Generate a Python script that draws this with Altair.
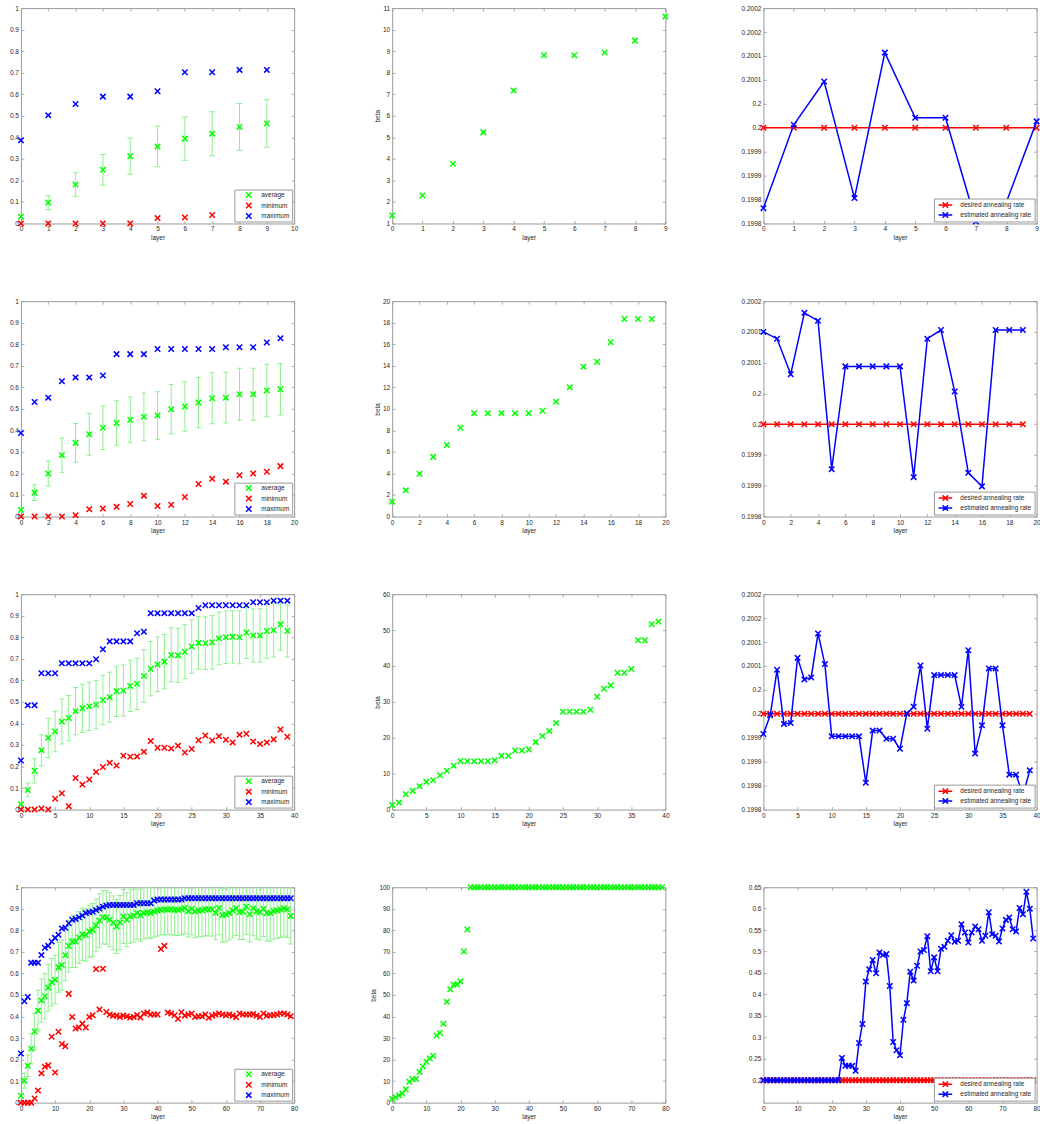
import altair as alt
import pandas as pd

# ---------------------------------------------------------------- styling
FONT = "Liberation Sans"
FS = 6.5
TEXT = "#262626"
FRAME = "#9a9a9a"
GREEN, RED, BLUE = "#00ff00", "#ff0000", "#0000ff"
BAR = "#8ff08f"
XMARK = "M-1,-1L1,1M-1,1L1,-1"
LINEMARK = "M-2.5,0L2.5,0M-1,-1L1,1M-1,1L1,-1"
W, H = 274, 216

STAT_NAMES = ["average", "minimum", "maximum"]
RATE_NAMES = ["desired annealing rate", "estimated annealing rate"]
DESIRED_RATE = 0.2

# ---------------------------------------------------------------- 10 layers
avg_10 = [0.031, 0.097, 0.181, 0.249, 0.312, 0.357, 0.394, 0.417, 0.448, 0.464]
std_10 = [0.008, 0.032, 0.055, 0.071, 0.084, 0.094, 0.100, 0.102, 0.109, 0.110]
min_10 = [0, 0, 0, 0, 0, 0.025, 0.028, 0.039, 0.08, 0.10]
max_10 = [0.386, 0.502, 0.555, 0.589, 0.589, 0.614, 0.702, 0.702, 0.713, 0.713]
beta_10 = [1.37, 2.30, 3.77, 5.23, 7.17, 8.81, 8.81, 8.94, 9.49, 10.61]
est_10 = [0.199832, 0.2000063, 0.2000965, 0.199853, 0.200157,
          0.200021, 0.200021, 0.199804, 0.199844, 0.2000133]

# ---------------------------------------------------------------- 20 layers
avg_20 = [0.031, 0.111, 0.200, 0.285, 0.342, 0.382, 0.412, 0.434, 0.449, 0.463,
          0.469, 0.498, 0.511, 0.529, 0.549, 0.552, 0.568, 0.568, 0.585, 0.591]
std_20 = [0.008, 0.037, 0.058, 0.080, 0.090, 0.098, 0.101, 0.103, 0.106, 0.111,
          0.110, 0.115, 0.115, 0.117, 0.118, 0.118, 0.121, 0.121, 0.122, 0.120]
min_20 = [0, 0, 0, 0, 0.006, 0.034, 0.037, 0.045, 0.058, 0.097,
          0.049, 0.055, 0.091, 0.151, 0.175, 0.162, 0.192, 0.200, 0.208, 0.234]
max_20 = [0.388, 0.532, 0.552, 0.628, 0.646, 0.646, 0.655, 0.754, 0.754, 0.754,
          0.778, 0.778, 0.778, 0.778, 0.778, 0.786, 0.786, 0.786, 0.808, 0.828]
beta_20 = [1.38, 2.43, 3.97, 5.54, 6.65, 8.25, 9.60, 9.60, 9.60, 9.60,
           9.60, 9.82, 10.65, 12.00, 13.91, 14.37, 16.18, 18.34, 18.34, 18.34]
est_20 = [0.200150, 0.200139, 0.2000813, 0.200181, 0.200168,
          0.199927, 0.200094, 0.200094, 0.200094, 0.200094,
          0.200094, 0.199914, 0.200139, 0.200153, 0.2000533,
          0.199921, 0.199899, 0.200153, 0.200153, 0.200153]

# ---------------------------------------------------------------- 40 layers
avg_40 = [0.025, 0.091, 0.180, 0.276, 0.333, 0.363, 0.409, 0.425, 0.457, 0.470,
          0.479, 0.487, 0.509, 0.522, 0.549, 0.553, 0.574, 0.584, 0.620, 0.654,
          0.674, 0.687, 0.718, 0.716, 0.733, 0.757, 0.774, 0.772, 0.777, 0.795,
          0.800, 0.802, 0.800, 0.822, 0.808, 0.808, 0.829, 0.833, 0.860, 0.829]
std_40 = [0.008, 0.032, 0.056, 0.072, 0.091, 0.094, 0.104, 0.105, 0.110, 0.112,
          0.112, 0.112, 0.115, 0.116, 0.117, 0.118, 0.119, 0.119, 0.122, 0.126,
          0.127, 0.126, 0.126, 0.126, 0.125, 0.124, 0.122, 0.122, 0.124, 0.122,
          0.122, 0.122, 0.123, 0.121, 0.123, 0.124, 0.126, 0.124, 0.120, 0.121]
min_40 = [0, 0, 0, 0.005, 0, 0.050, 0.076, 0.016, 0.147, 0.116,
          0.140, 0.175, 0.198, 0.217, 0.205, 0.250, 0.245, 0.247, 0.268, 0.318,
          0.287, 0.287, 0.284, 0.296, 0.265, 0.281, 0.322, 0.344, 0.321, 0.341,
          0.324, 0.312, 0.347, 0.352, 0.316, 0.304, 0.312, 0.326, 0.372, 0.338]
max_40 = [0.228, 0.484, 0.484, 0.633, 0.633, 0.633, 0.679, 0.679, 0.679, 0.679,
          0.679, 0.698, 0.744, 0.781, 0.781, 0.781, 0.781, 0.819, 0.826, 0.912,
          0.912, 0.912, 0.912, 0.912, 0.912, 0.912, 0.936, 0.949, 0.949, 0.949,
          0.949, 0.949, 0.949, 0.949, 0.963, 0.963, 0.963, 0.970, 0.970, 0.970]
beta_40 = [1.30, 1.95, 4.28, 5.21, 6.51, 7.72, 8.19, 9.58, 10.79, 12.19,
           13.49, 13.49, 13.49, 13.49, 13.49, 13.77, 14.98, 14.98, 16.47, 16.47,
           16.74, 18.79, 20.47, 21.86, 24.09, 27.26, 27.26, 27.26, 27.26, 27.81,
           31.44, 33.67, 34.60, 38.14, 38.14, 39.16, 47.16, 47.16, 51.63, 52.37]
est_40 = [0.199958, 0.199997, 0.200092, 0.199979, 0.199981,
          0.200117, 0.200072, 0.200076, 0.200168, 0.200104,
          0.199953, 0.199953, 0.199953, 0.199953, 0.199953,
          0.199856, 0.199965, 0.199965, 0.199948, 0.199948,
          0.199927, 0.200001, 0.200015, 0.200101, 0.199969,
          0.200081, 0.200081, 0.200081, 0.200081, 0.200015,
          0.200133, 0.199917, 0.199976, 0.200095, 0.200095,
          0.199976, 0.199873, 0.199873, 0.199830, 0.199882]

# ---------------------------------------------------------------- 80 layers
avg_80 = [0.032, 0.102, 0.171, 0.250, 0.330, 0.427, 0.474, 0.494, 0.534, 0.559,
          0.571, 0.628, 0.639, 0.684, 0.727, 0.748, 0.748, 0.767, 0.781, 0.778,
          0.795, 0.802, 0.823, 0.846, 0.861, 0.860, 0.849, 0.835, 0.818, 0.836,
          0.864, 0.849, 0.864, 0.869, 0.881, 0.870, 0.880, 0.884, 0.881, 0.887,
          0.892, 0.895, 0.897, 0.897, 0.898, 0.895, 0.895, 0.898, 0.904, 0.889,
          0.900, 0.887, 0.892, 0.893, 0.898, 0.897, 0.898, 0.880, 0.904, 0.870,
          0.873, 0.881, 0.892, 0.903, 0.884, 0.886, 0.910, 0.875, 0.903, 0.889,
          0.884, 0.900, 0.880, 0.880, 0.890, 0.892, 0.897, 0.903, 0.897, 0.867]
std_80 = [0.008, 0.035, 0.050, 0.070, 0.085, 0.095, 0.100, 0.105, 0.108, 0.110,
          0.113, 0.115, 0.117, 0.118, 0.120, 0.120, 0.121, 0.121, 0.122, 0.122,
          0.122, 0.123, 0.123, 0.124, 0.124, 0.125, 0.125, 0.125, 0.126, 0.126,
          0.125, 0.125, 0.124, 0.123, 0.122, 0.121, 0.120, 0.120, 0.119, 0.118,
          0.118, 0.117, 0.117, 0.117, 0.118, 0.118, 0.119, 0.119, 0.120, 0.120,
          0.121, 0.121, 0.122, 0.122, 0.123, 0.123, 0.124, 0.124, 0.125, 0.125,
          0.126, 0.126, 0.127, 0.127, 0.127, 0.128, 0.128, 0.128, 0.128, 0.129,
          0.129, 0.129, 0.129, 0.130, 0.130, 0.130, 0.130, 0.130, 0.130, 0.130]
min_80 = [0, 0, 0, 0, 0.019, 0.056, 0.136, 0.167, 0.173, 0.306,
          0.140, 0.329, 0.272, 0.262, 0.505, 0.398, 0.344, 0.349, 0.367, 0.349,
          0.398, 0.406, 0.620, 0.432, 0.622, 0.421, 0.409, 0.404, 0.404, 0.398,
          0.404, 0.401, 0.395, 0.398, 0.407, 0.395, 0.414, 0.418, 0.409, 0.409,
          0.409, 0.713, 0.728, 0.418, 0.414, 0.406, 0.389, 0.420, 0.404, 0.409,
          0.414, 0.398, 0.401, 0.401, 0.409, 0.394, 0.404, 0.409, 0.414, 0.409,
          0.406, 0.409, 0.404, 0.397, 0.414, 0.409, 0.409, 0.409, 0.411, 0.404,
          0.398, 0.414, 0.404, 0.406, 0.407, 0.409, 0.414, 0.414, 0.409, 0.401]
max_80 = [0.228, 0.471, 0.491, 0.650, 0.650, 0.650, 0.685, 0.719, 0.728, 0.748,
          0.765, 0.779, 0.809, 0.812, 0.833, 0.849, 0.853, 0.861, 0.869, 0.880,
          0.884, 0.886, 0.894, 0.901, 0.910, 0.915, 0.918, 0.918, 0.918, 0.918,
          0.918, 0.918, 0.918, 0.918, 0.926, 0.926, 0.926, 0.926, 0.926, 0.938,
          0.943, 0.943, 0.943, 0.943, 0.943, 0.943, 0.943, 0.943, 0.949, 0.949,
          0.949, 0.949, 0.949, 0.949, 0.949, 0.949, 0.949, 0.949, 0.949, 0.949,
          0.949, 0.949, 0.949, 0.949, 0.949, 0.949, 0.949, 0.949, 0.949, 0.949,
          0.949, 0.949, 0.949, 0.949, 0.949, 0.949, 0.949, 0.949, 0.949, 0.949]
beta_80 = [1.7, 2.5, 3.4, 4.2, 6.2, 9.7, 11.0, 11.0, 14.2, 16.8,
           19.0, 20.5, 21.8, 31.2, 32.3, 36.6, 46.8, 52.6, 54.8, 54.8,
           56.3, 70.2, 80.4, 100, 100, 100, 100, 100, 100, 100,
           100, 100, 100, 100, 100, 100, 100, 100, 100, 100,
           100, 100, 100, 100, 100, 100, 100, 100, 100, 100,
           100, 100, 100, 100, 100, 100, 100, 100, 100, 100,
           100, 100, 100, 100, 100, 100, 100, 100, 100, 100,
           100, 100, 100, 100, 100, 100, 100, 100, 100, 100]
est_80 = [0.2, 0.2, 0.2, 0.2, 0.2, 0.2, 0.2, 0.2, 0.2, 0.2,
          0.2, 0.2, 0.2, 0.2, 0.2, 0.2, 0.2, 0.2, 0.2, 0.2,
          0.2, 0.2, 0.2, 0.2519, 0.2333, 0.2333, 0.2333, 0.2217, 0.2867, 0.3308,
          0.4299, 0.4585, 0.4802, 0.4492, 0.4980, 0.4918, 0.4941, 0.4198, 0.2890, 0.2697,
          0.2580, 0.3409, 0.3796, 0.4531, 0.4322, 0.4670, 0.5003, 0.5034, 0.5359, 0.4539,
          0.4864, 0.4539, 0.5065, 0.5111, 0.5251, 0.5382, 0.5228, 0.5251, 0.5638, 0.5444,
          0.5212, 0.5444, 0.5584, 0.5522, 0.5251, 0.5367, 0.5916, 0.5406, 0.5367, 0.5235,
          0.5538, 0.5739, 0.5793, 0.5522, 0.5467, 0.6017, 0.5870, 0.6396, 0.6001, 0.5305]

# ---------------------------------------------------------------- axis ticks
x_ticks_10 = [0, 1, 2, 3, 4, 5, 6, 7, 8, 9, 10]
x_ticks_9 = [0, 1, 2, 3, 4, 5, 6, 7, 8, 9]
x_ticks_20 = [0, 2, 4, 6, 8, 10, 12, 14, 16, 18, 20]
x_ticks_40 = [0, 5, 10, 15, 20, 25, 30, 35, 40]
x_ticks_80 = [0, 10, 20, 30, 40, 50, 60, 70, 80]
frac_ticks = [0, 0.1, 0.2, 0.3, 0.4, 0.5, 0.6, 0.7, 0.8, 0.9, 1]
beta_ticks_10 = [1, 2, 3, 4, 5, 6, 7, 8, 9, 10, 11]
beta_ticks_20 = [0, 2, 4, 6, 8, 10, 12, 14, 16, 18, 20]
beta_ticks_40 = [0, 10, 20, 30, 40, 50, 60]
beta_ticks_80 = [0, 10, 20, 30, 40, 50, 60, 70, 80, 90, 100]
rate_ticks_a = [0.1998, 0.19985, 0.1999, 0.19995, 0.2, 0.20005, 0.2001, 0.20015, 0.2002, 0.20025]
rate_ticks_b = [0.19985, 0.1999, 0.19995, 0.2, 0.20005, 0.2001, 0.20015, 0.2002]
rate_ticks_c = [0.2, 0.25, 0.3, 0.35, 0.4, 0.45, 0.5, 0.55, 0.6, 0.65]

RATE_LABELS = "format(datum.value - 1e-9, '.4~r')"


def label_axis(orient, values, title=None, fmt=None, expr=None):
    props = dict(orient=orient, values=values, ticks=False, tickSize=0, domain=False,
                 grid=False, labelFont=FONT, labelFontSize=FS, labelColor=TEXT,
                 labelPadding=2.5, labelFlush=False, labelOverlap=False,
                 titleFont=FONT, titleFontSize=FS, titleColor=TEXT,
                 titleFontWeight="normal", titlePadding=2, title=title)
    if fmt is not None:
        props["format"] = fmt
    if expr is not None:
        props["labelExpr"] = expr
    return alt.Axis(**props)


def tick_axis(orient, values):
    # ticks pulled inside the frame, on every side
    return alt.Axis(orient=orient, values=values, labels=False, domain=False, grid=False,
                    ticks=True, tickSize=3, offset=-3, tickColor=FRAME, tickWidth=0.8,
                    title=None)


def tick_layers(df, xf, yf, xs, ys, xt, yt):
    out = []
    for xo, yo in (("bottom", "left"), ("top", "right")):
        out.append(alt.Chart(df).mark_point(opacity=0, clip=True).encode(
            x=alt.X(xf, scale=xs, axis=tick_axis(xo, xt)),
            y=alt.Y(yf, scale=ys, axis=tick_axis(yo, yt))))
    return out


def finish(layers):
    return alt.layer(*layers).resolve_axis(x="independent", y="independent").properties(
        width=W, height=H)


stat_legend = alt.Legend(title=None, orient="bottom-right", offset=2, padding=2,
                         fillColor="white", strokeColor=FRAME, labelFont=FONT,
                         labelFontSize=FS, labelColor=TEXT, symbolType=XMARK,
                         symbolSize=30, symbolStrokeWidth=1.5, symbolOffset=9,
                         labelOffset=9, rowPadding=3.5, clipHeight=7)

rate_legend = alt.Legend(title=None, orient="bottom-right", offset=2, padding=3,
                         fillColor="white", strokeColor=FRAME, labelFont=FONT,
                         labelFontSize=FS, labelColor=TEXT, symbolType=LINEMARK,
                         symbolSize=30, symbolStrokeWidth=1.5, symbolOffset=5,
                         labelOffset=11.5, rowPadding=3, clipHeight=7)


def stats_panel(avg, std, mn, mx, xmax, xt, cap):
    n = len(avg)
    idx = list(range(n))
    bars = pd.DataFrame({"layer": idx,
                         "lo": [a - s for a, s in zip(avg, std)],
                         "hi": [a + s for a, s in zip(avg, std)]})
    pts = pd.DataFrame({"layer": idx * 3, "value": avg + mn + mx,
                        "series": [STAT_NAMES[0]] * n + [STAT_NAMES[1]] * n + [STAT_NAMES[2]] * n})
    xs = alt.Scale(domain=[0, xmax], nice=False, zero=False)
    ys = alt.Scale(domain=[0, 1], nice=False, zero=False)
    x_plain = alt.X("layer:Q", scale=xs, axis=None)
    rule = alt.Chart(bars).mark_rule(color=BAR, strokeWidth=1, clip=True).encode(
        x=x_plain, y=alt.Y("lo:Q", scale=ys, axis=None), y2="hi:Q")
    cap_lo = alt.Chart(bars).mark_tick(color=BAR, orient="horizontal", size=cap, thickness=1,
                                       opacity=1, clip=True).encode(
        x=x_plain, y=alt.Y("lo:Q", scale=ys, axis=None))
    cap_hi = alt.Chart(bars).mark_tick(color=BAR, orient="horizontal", size=cap, thickness=1,
                                       opacity=1, clip=True).encode(
        x=x_plain, y=alt.Y("hi:Q", scale=ys, axis=None))
    points = alt.Chart(pts).mark_point(shape=XMARK, filled=False, size=30, strokeWidth=1.5,
                                       opacity=1).encode(
        x=alt.X("layer:Q", scale=xs, axis=label_axis("bottom", xt, "layer", fmt="d")),
        y=alt.Y("value:Q", scale=ys, axis=label_axis("left", frac_ticks, fmt=".2~f")),
        color=alt.Color("series:N", scale=alt.Scale(domain=STAT_NAMES, range=[GREEN, RED, BLUE]),
                        legend=stat_legend))
    return finish([rule, cap_lo, cap_hi, points] +
                  tick_layers(pts, "layer:Q", "value:Q", xs, ys, xt, frac_ticks))


def beta_panel(beta, xmax, xt, ydom, yt):
    df = pd.DataFrame({"layer": list(range(len(beta))), "beta": beta})
    xs = alt.Scale(domain=[0, xmax], nice=False, zero=False)
    ys = alt.Scale(domain=ydom, nice=False, zero=False)
    points = alt.Chart(df).mark_point(shape=XMARK, filled=False, size=30, strokeWidth=1.5,
                                      color=GREEN, opacity=1).encode(
        x=alt.X("layer:Q", scale=xs, axis=label_axis("bottom", xt, "layer", fmt="d")),
        y=alt.Y("beta:Q", scale=ys, axis=label_axis("left", yt, "beta", fmt="d")))
    return finish([points] + tick_layers(df, "layer:Q", "beta:Q", xs, ys, xt, yt))


def rate_panel(est, xmax, xt, ydom, yt):
    n = len(est)
    idx = list(range(n))
    desired = pd.DataFrame({"layer": idx, "rate": [DESIRED_RATE] * n, "series": RATE_NAMES[0]})
    estimated = pd.DataFrame({"layer": idx, "rate": est, "series": RATE_NAMES[1]})
    xs = alt.Scale(domain=[0, xmax], nice=False, zero=False)
    ys = alt.Scale(domain=ydom, nice=False, zero=False)
    color = alt.Color("series:N", scale=alt.Scale(domain=RATE_NAMES, range=[RED, BLUE]),
                      legend=rate_legend)
    layers = []
    for i, df in enumerate((desired, estimated)):
        if i == 1:
            xe = alt.X("layer:Q", scale=xs, axis=label_axis("bottom", xt, "layer", fmt="d"))
            ye = alt.Y("rate:Q", scale=ys, axis=label_axis("left", yt, expr=RATE_LABELS))
        else:
            xe = alt.X("layer:Q", scale=xs, axis=None)
            ye = alt.Y("rate:Q", scale=ys, axis=None)
        layers.append(alt.Chart(df).mark_line(strokeWidth=1.5).encode(
            x=alt.X("layer:Q", scale=xs, axis=None), y=alt.Y("rate:Q", scale=ys, axis=None),
            color=color))
        layers.append(alt.Chart(df).mark_point(shape=XMARK, filled=False, size=30,
                                               strokeWidth=1.5, opacity=1).encode(
            x=xe, y=ye, color=color))
    return finish(layers + tick_layers(estimated, "layer:Q", "rate:Q", xs, ys, xt, yt))


panels = [
    stats_panel(avg_10, std_10, min_10, max_10, 10, x_ticks_10, 6),
    beta_panel(beta_10, 9, x_ticks_9, [1, 11], beta_ticks_10),
    rate_panel(est_10, 9, x_ticks_9, [0.1998, 0.20025], rate_ticks_a),
    stats_panel(avg_20, std_20, min_20, max_20, 20, x_ticks_20, 5),
    beta_panel(beta_20, 20, x_ticks_20, [0, 20], beta_ticks_20),
    rate_panel(est_20, 20, x_ticks_20, [0.19985, 0.2002], rate_ticks_b),
    stats_panel(avg_40, std_40, min_40, max_40, 40, x_ticks_40, 5),
    beta_panel(beta_40, 40, x_ticks_40, [0, 60], beta_ticks_40),
    rate_panel(est_40, 40, x_ticks_40, [0.1998, 0.20025], rate_ticks_a),
    stats_panel(avg_80, std_80, min_80, max_80, 80, x_ticks_80, 5),
    beta_panel(beta_80, 80, x_ticks_80, [0, 100], beta_ticks_80),
    rate_panel(est_80, 80, x_ticks_80, [0.1475, 0.65], rate_ticks_c),
]

# the right column's last tick labels run off the page edge
chart = alt.concat(*panels, columns=3, spacing={"row": 77.9, "column": 98.3},
                   bounds="flush").resolve_scale(color="independent").resolve_legend(
    color="independent").configure_view(stroke=FRAME, strokeWidth=1).properties(
    padding={"left": 8, "top": 2.5, "right": -3, "bottom": 0}, background="white")

chart.save("out.html", embed_options={"renderer": "svg", "actions": False})
